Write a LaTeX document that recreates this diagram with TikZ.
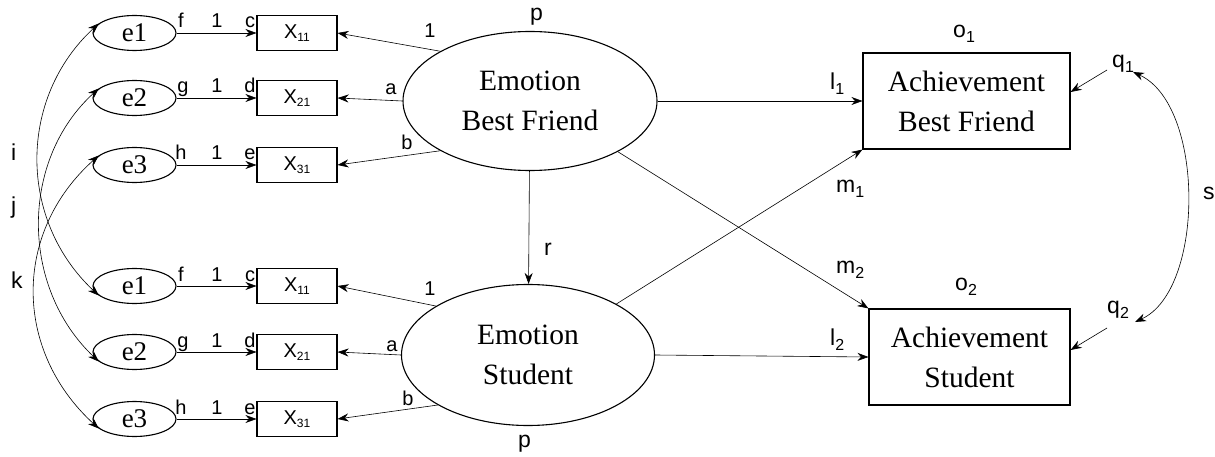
\documentclass[tikz,border=0pt]{standalone}
\usepackage{fontspec}
\setmainfont{Liberation Serif}
\newfontfamily\labfont{Liberation Sans}
\usetikzlibrary{shapes.geometric,arrows.meta}
\newcommand\mysub[1]{\raisebox{-5pt}{\fontsize{16}{16}\selectfont #1}}
\newcommand\xsub[1]{\raisebox{-3pt}{\fontsize{12}{12}\selectfont #1}}
\begin{document}
\begin{tikzpicture}[x=1pt,y=-1pt,
  latent/.style={draw,ellipse,line width=1.1pt,inner sep=0pt,align=center,font=\fontsize{29.5}{40}\selectfont},
  err/.style={draw,ellipse,line width=1.1pt,inner sep=0pt,minimum width=83pt,minimum height=35pt,font=\fontsize{27}{27}\selectfont},
  obs/.style={draw,rectangle,line width=1.1pt,inner sep=0pt,minimum width=80pt,minimum height=35pt,font=\labfont\fontsize{20}{20}\selectfont},
  ach/.style={draw,rectangle,line width=1.1pt,inner sep=0pt,align=center,font=\fontsize{29.5}{40}\selectfont},
  conn/.style={line width=0.6pt,-{Stealth[length=11pt,width=8pt]}},
  biconn/.style={line width=0.6pt,{Stealth[length=11pt,width=8pt]}-{Stealth[length=11pt,width=8pt]}},
  sl/.style={font=\labfont\fontsize{20}{20}\selectfont,anchor=base,inner sep=0pt},
  bl/.style={font=\labfont\fontsize{23}{23}\selectfont,anchor=base west,inner sep=0pt},
]
\useasboundingbox (0,0) rectangle (1215,457);

% latent and outcome nodes
\node[latent,minimum width=254pt,minimum height=139pt] (ebf) at (530,101) {Emotion\\Best Friend};
\node[latent,minimum width=253pt,minimum height=141pt] (est) at (528,355) {Emotion\\Student};
\node[ach,minimum width=207pt,minimum height=96pt] (abf) at (966.5,101) {Achievement\\Best Friend};
\node[ach,minimum width=201pt,minimum height=96pt] (ast) at (969.5,357) {Achievement\\Student};

% error ellipses
\node[err] (e1t) at (134.5,33) {e1};
\node[err] (e2t) at (134.5,98) {e2};
\node[err] (e3t) at (134.5,165) {e3};
\node[err] (e1b) at (134.5,286) {e1};
\node[err] (e2b) at (134.5,352) {e2};
\node[err] (e3b) at (134.5,419) {e3};

% observed boxes
\node[obs] (x11t) at (297,33) {X\xsub{11}};
\node[obs] (x21t) at (297,98) {X\xsub{21}};
\node[obs] (x31t) at (297,165) {X\xsub{31}};
\node[obs] (x11b) at (297,286) {X\xsub{11}};
\node[obs] (x21b) at (297,352) {X\xsub{21}};
\node[obs] (x31b) at (297,419) {X\xsub{31}};

% error -> observed
\draw[conn] (e1t) -- (x11t);
\draw[conn] (e2t) -- (x21t);
\draw[conn] (e3t) -- (x31t);
\draw[conn] (e1b) -- (x11b);
\draw[conn] (e2b) -- (x21b);
\draw[conn] (e3b) -- (x31b);

% loadings
\draw[conn] (ebf.151) -- (x11t.east);
\draw[conn] (ebf.west) -- (x21t.east);
\draw[conn] (ebf.209) -- (x31t.east);
\draw[conn] (est.152) -- (x11b.east);
\draw[conn] (est.west) -- (x21b.east);
\draw[conn] (est.209) -- (x31b.east);

% structural paths
\draw[conn] (ebf) -- (est);
\draw[conn] (ebf.east) -- (abf.west);
\draw[conn] (est.east) -- (ast.west);
\draw[conn] (est.30) -- (abf.south west);
\draw[conn] (ebf.-30) -- (ast.north west);

% residuals of outcomes
\coordinate (q1c) at (1107,70);
\coordinate (q2c) at (1107,328);
\draw[conn] (q1c) -- ([yshift=9pt]abf.east);
\draw[conn] (q2c) -- ([yshift=7pt]ast.east);
\coordinate (s1) at (1133,72);
\coordinate (s2) at (1135,322);
\draw[biconn] (s1) .. controls (1205,105) and (1205,290) .. (s2);

% error covariances
\draw[biconn] (e1t.165) .. controls (18,98) and (18,220) .. (e1b.195);
\draw[biconn] (e2t.165) .. controls (20,160) and (20,287) .. (e2b.195);
\draw[biconn] (e3t.165) .. controls (13,232) and (13,350) .. (e3b.195);

% small labels on error arrows
\node[sl] (lf1) at (181,28) {f};
\node[sl] (lo1) at (217,28) {1};
\node[sl] (lc1) at (250,28) {c};
\node[sl] (lg1) at (183,93) {g};
\node[sl] (lo2) at (217,93) {1};
\node[sl] (ld1) at (250,93) {d};
\node[sl] (lh1) at (181,160) {h};
\node[sl] (lo3) at (217,160) {1};
\node[sl] (le1) at (250,160) {e};
\node[sl] (lf2) at (181,281) {f};
\node[sl] (lo4) at (217,281) {1};
\node[sl] (lc2) at (250,281) {c};
\node[sl] (lg2) at (183,347) {g};
\node[sl] (lo5) at (217,347) {1};
\node[sl] (ld2) at (250,347) {d};
\node[sl] (lh2) at (181,414) {h};
\node[sl] (lo6) at (217,414) {1};
\node[sl] (le2) at (250,414) {e};

% loading labels
\node[sl] (ll1) at (430,38) {1};
\node[sl] (la1) at (391,95) {a};
\node[sl] (lb1) at (407,150) {b};
\node[sl] (ll2) at (430,295) {1};
\node[sl] (la2) at (392,351) {a};
\node[sl] (lb2) at (408,405) {b};

% larger labels
\node[bl] (lp1) at (530,21) {p};
\node[bl] (lp2) at (518,447) {p};
\node[bl] (lr) at (544,255) {r};
\node[bl] (ll1s) at (830,90) {l\mysub{1}};
\node[bl] (ll2s) at (830,345) {l\mysub{2}};
\node[bl] (lm1) at (836,193) {m\mysub{1}};
\node[bl] (lm2) at (836,273) {m\mysub{2}};
\node[bl] (lo1s) at (953,38) {o\mysub{1}};
\node[bl] (lo2s) at (955,290) {o\mysub{2}};
\node[bl] (lq1) at (1112,68) {q\mysub{1}};
\node[bl] (lq2) at (1107,313) {q\mysub{2}};
\node[bl] (ls) at (1203,200) {s};
\node[bl] (li) at (11,161) {i};
\node[bl] (lj) at (11,214) {j};
\node[bl] (lk) at (11,288) {k};
\end{tikzpicture}
\end{document}
